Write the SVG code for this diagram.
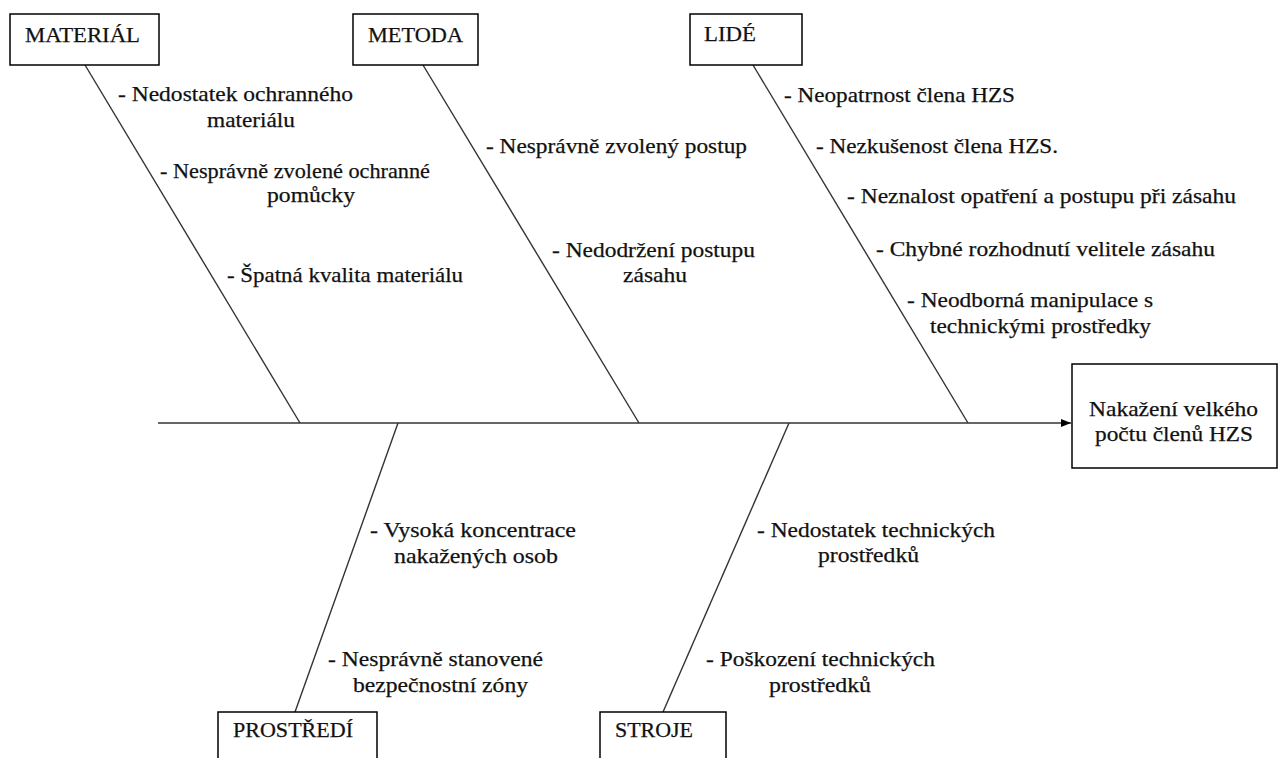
<svg xmlns="http://www.w3.org/2000/svg" width="1280" height="758" viewBox="0 0 1280 758">
<style>
.box{fill:#fff;stroke:#000;stroke-width:1.5}
.ln{stroke:#333;stroke-width:1.4;fill:none}
text{font-family:'Liberation Serif','Times New Roman',serif;font-size:22px;fill:#111;stroke:#111;stroke-width:0.25}
</style>
<defs>
<marker id="arr" viewBox="0 0 10 10" refX="10" refY="5" markerWidth="10" markerHeight="10" markerUnits="userSpaceOnUse" orient="auto">
<path d="M0,1 L10,5 L0,9 Z" fill="#000"/>
</marker>
</defs>
<rect width="1280" height="758" fill="#fff"/>
<g id="connectors">
<line class="ln" x1="158" y1="423" x2="1071" y2="423" marker-end="url(#arr)"/>
<line class="ln" x1="85" y1="65" x2="300" y2="423"/>
<line class="ln" x1="423" y1="65" x2="639" y2="423"/>
<line class="ln" x1="753" y1="65" x2="968" y2="423"/>
<line class="ln" x1="398" y1="423" x2="295" y2="712"/>
<line class="ln" x1="789" y1="423" x2="663" y2="712"/>
</g>
<g id="material">
<rect class="box" x="10" y="14" width="149" height="51"/>
<text x="25" y="42" textLength="115" lengthAdjust="spacingAndGlyphs">MATERIÁL</text>
<text x="118" y="101" textLength="235" lengthAdjust="spacingAndGlyphs">- Nedostatek ochranného</text>
<text x="207" y="127" textLength="88" lengthAdjust="spacingAndGlyphs">materiálu</text>
<text x="160" y="178" textLength="270" lengthAdjust="spacingAndGlyphs">- Nesprávně zvolené ochranné</text>
<text x="267" y="202" textLength="88" lengthAdjust="spacingAndGlyphs">pomůcky</text>
<text x="227" y="282" textLength="236" lengthAdjust="spacingAndGlyphs">- Špatná kvalita materiálu</text>
</g>
<g id="metoda">
<rect class="box" x="353" y="14" width="125" height="51"/>
<text x="368" y="42" textLength="95" lengthAdjust="spacingAndGlyphs">METODA</text>
<text x="486" y="153" textLength="261" lengthAdjust="spacingAndGlyphs">- Nesprávně zvolený postup</text>
<text x="552" y="257" textLength="203" lengthAdjust="spacingAndGlyphs">- Nedodržení postupu</text>
<text x="623" y="282" textLength="64" lengthAdjust="spacingAndGlyphs">zásahu</text>
</g>
<g id="lide">
<rect class="box" x="690" y="14" width="112" height="51"/>
<text x="704" y="41" textLength="52" lengthAdjust="spacingAndGlyphs">LIDÉ</text>
<text x="784" y="102" textLength="231" lengthAdjust="spacingAndGlyphs">- Neopatrnost člena HZS</text>
<text x="816" y="153" textLength="242" lengthAdjust="spacingAndGlyphs">- Nezkušenost člena HZS.</text>
<text x="847" y="203" textLength="389" lengthAdjust="spacingAndGlyphs">- Neznalost opatření a postupu při zásahu</text>
<text x="876" y="256" textLength="339" lengthAdjust="spacingAndGlyphs">- Chybné rozhodnutí velitele zásahu</text>
<text x="907" y="307" textLength="246" lengthAdjust="spacingAndGlyphs">- Neodborná manipulace s</text>
<text x="930" y="333" textLength="221" lengthAdjust="spacingAndGlyphs">technickými prostředky</text>
</g>
<g id="effect">
<rect class="box" x="1072" y="364" width="205" height="104"/>
<text x="1089" y="416" textLength="169" lengthAdjust="spacingAndGlyphs">Nakažení velkého</text>
<text x="1095" y="441" textLength="158" lengthAdjust="spacingAndGlyphs">počtu členů HZS</text>
</g>
<g id="prostredi">
<rect class="box" x="218" y="712" width="159" height="60"/>
<text x="233" y="737" textLength="120" lengthAdjust="spacingAndGlyphs">PROSTŘEDÍ</text>
<text x="370" y="537" textLength="206" lengthAdjust="spacingAndGlyphs">- Vysoká koncentrace</text>
<text x="394" y="563" textLength="164" lengthAdjust="spacingAndGlyphs">nakažených osob</text>
<text x="328" y="666" textLength="215" lengthAdjust="spacingAndGlyphs">- Nesprávně stanovené</text>
<text x="353" y="692" textLength="175" lengthAdjust="spacingAndGlyphs">bezpečnostní zóny</text>
</g>
<g id="stroje">
<rect class="box" x="600" y="712" width="126" height="60"/>
<text x="615" y="737" textLength="78" lengthAdjust="spacingAndGlyphs">STROJE</text>
<text x="757" y="537" textLength="238" lengthAdjust="spacingAndGlyphs">- Nedostatek technických</text>
<text x="818" y="562" textLength="101" lengthAdjust="spacingAndGlyphs">prostředků</text>
<text x="706" y="666" textLength="229" lengthAdjust="spacingAndGlyphs">- Poškození technických</text>
<text x="769" y="692" textLength="102" lengthAdjust="spacingAndGlyphs">prostředků</text>
</g>
</svg>
